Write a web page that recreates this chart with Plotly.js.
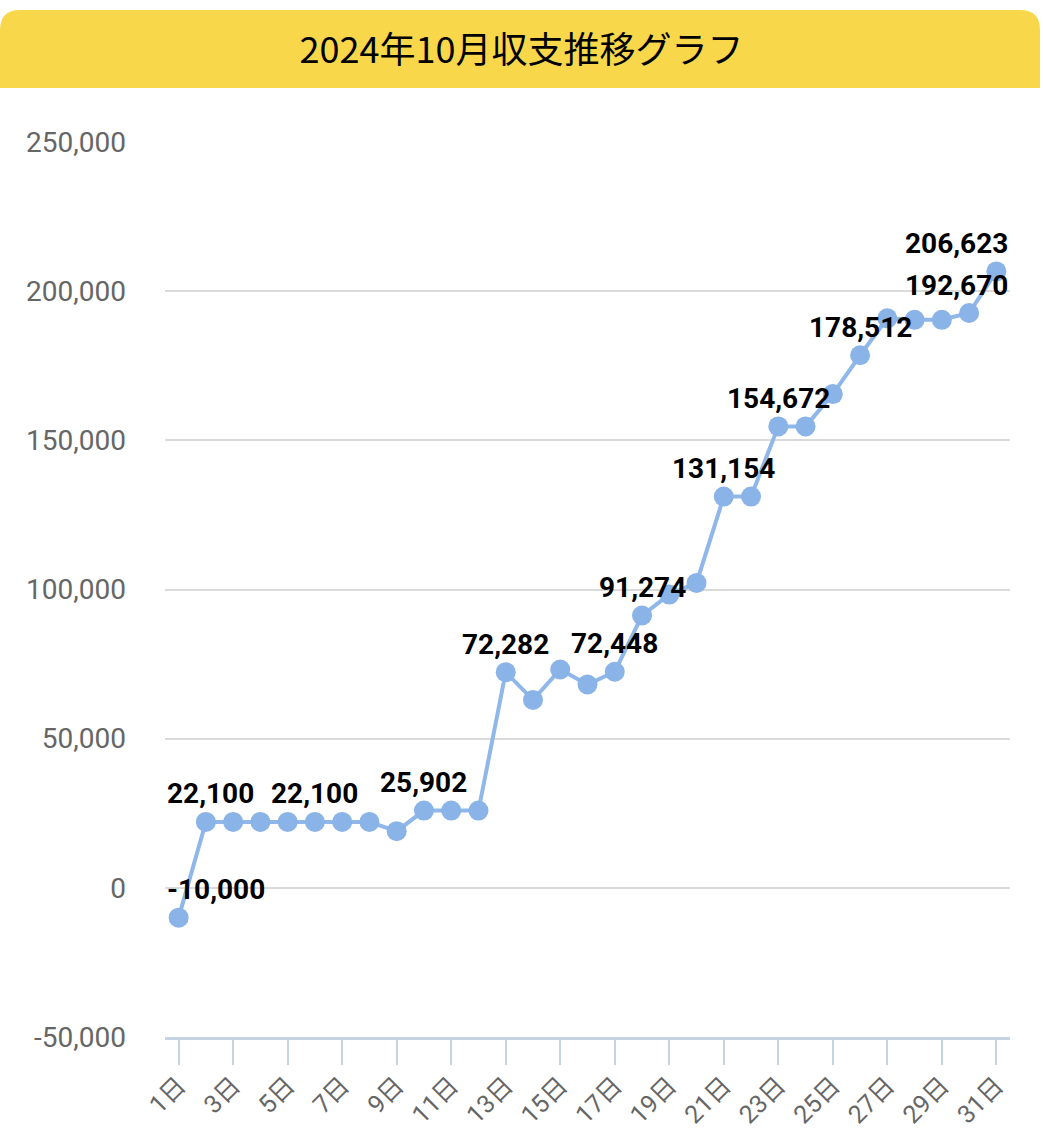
<!DOCTYPE html>
<html>
<head>
<meta charset="utf-8">
<script src="https://cdn.plot.ly/plotly-3.0.1.min.js"></script>
<style>
  html, body { margin: 0; padding: 0; background: #fff; }
  #chart { width: 1043px; height: 1132px; }
</style>
</head>
<body>
<div id="chart"></div>
<script>
// 2024年10月 daily running balance
const days = [
    '1日', '2日', '3日', '4日', '5日', '6日', '7日', '8日', '9日', '10日',
    '11日', '12日', '13日', '14日', '15日', '16日', '17日', '18日', '19日', '20日',
    '21日', '22日', '23日', '24日', '25日', '26日', '27日', '28日', '29日', '30日', '31日'
];
const balance = [
    -10000, 22100, 22100, 22100, 22100, 22100, 22100, 22100, 19000, 25902,
    25902, 25902, 72282, 63000, 73200, 68150, 72448, 91274, 98300, 102200,
    131154, 131154, 154672, 154672, 165500, 178512, 190900, 190400, 190400, 192670, 206623
];
// days that carry a value label
const labeledDays = ['1日', '2日', '6日', '10日', '13日', '17日', '18日', '21日', '23日', '26日', '30日', '31日'];

const xTickLabels = ['1日', '3日', '5日', '7日', '9日', '11日', '13日', '15日', '17日', '19日', '21日', '23日', '25日', '27日', '29日', '31日'];
const yTickValues = [-50000, 0, 50000, 100000, 150000, 200000, 250000];
const yTickLabels = ['-50,000', '0', '50,000', '100,000', '150,000', '200,000', '250,000'];

const margin = { l: 165, r: 33, t: 142, b: 95 };
const plotWidth = 1043 - margin.l - margin.r;

const formatNumber = (v) => v.toLocaleString('en-US');

// labels are kept inside the plot area, like the original
const labelFont = { family: 'Roboto, sans-serif', size: 28, color: '#000', weight: 'bold' };
const annotations = labeledDays.map(day => {
    const i = days.indexOf(day);
    const text = formatNumber(balance[i]);
    const centerPx = (i + 0.5) / days.length * plotWidth;
    const halfWidth = text.length * 7.5;
    const ann = {
        text: text,
        x: day,
        y: balance[i],
        xref: 'x',
        yref: 'y',
        xanchor: 'center',
        yanchor: 'middle',
        yshift: 28,
        showarrow: false,
        font: labelFont
    };
    if (centerPx - halfWidth < 0) {
        ann.xref = 'paper'; ann.x = 0; ann.xanchor = 'left';
    } else if (centerPx + halfWidth > plotWidth) {
        ann.xref = 'paper'; ann.x = 1; ann.xanchor = 'right';
    }
    return ann;
});

const trace = {
    type: 'scatter',
    mode: 'lines+markers',
    x: days,
    y: balance,
    line: { color: '#8fb7e9', width: 4 },
    marker: { color: '#8ab3e7', size: 20 },
    cliponaxis: false,
    hoverinfo: 'skip'
};

const layout = {
    width: 1043,
    height: 1132,
    margin: margin,
    paper_bgcolor: 'white',
    plot_bgcolor: 'white',
    showlegend: false,
    title: {
        text: '2024年10月収支推移グラフ',
        font: { family: '"Noto Sans CJK JP", sans-serif', size: 36, color: '#000' },
        x: 0.5,
        xref: 'container',
        xanchor: 'center',
        y: 1 - 50 / 1132,
        yref: 'container',
        yanchor: 'middle'
    },
    xaxis: {
        type: 'category',
        range: [-0.5, days.length - 0.5],
        tickmode: 'array',
        tickvals: xTickLabels,
        ticktext: xTickLabels,
        tickangle: -45,
        ticks: 'outside',
        ticklen: 25,
        tickwidth: 2,
        tickcolor: '#c6d3e2',
        ticklabelstandoff: -4,
        tickfont: { family: 'Roboto, "Noto Sans CJK JP", sans-serif', size: 25, color: '#666' },
        showline: true,
        linecolor: '#c6d3e2',
        linewidth: 3,
        showgrid: false,
        zeroline: false,
        automargin: false,
        fixedrange: true
    },
    yaxis: {
        range: [-50000, 250000],
        tickmode: 'array',
        tickvals: yTickValues,
        ticktext: yTickLabels,
        ticks: '',
        ticklabelstandoff: 38,
        tickfont: { family: 'Roboto, sans-serif', size: 28, color: '#666' },
        showgrid: true,
        gridcolor: '#dadada',
        gridwidth: 2,
        zeroline: false,
        showline: false,
        automargin: false,
        fixedrange: true
    },
    shapes: [{
        // yellow header with rounded top corners
        type: 'path',
        xref: 'paper',
        yref: 'paper',
        xsizemode: 'pixel',
        ysizemode: 'pixel',
        xanchor: 0,
        yanchor: 1,
        path: 'M -165,54 L -165,112 Q -165,132 -145,132 L 855,132 Q 875,132 875,112 L 875,54 Z',
        fillcolor: '#f8d84a',
        line: { width: 0 },
        layer: 'below'
    }],
    annotations: annotations
};

const config = {
    responsive: false,
    displayModeBar: false,
    staticPlot: true
};

Plotly.newPlot('chart', [trace], layout, config);
</script>
</body>
</html>
